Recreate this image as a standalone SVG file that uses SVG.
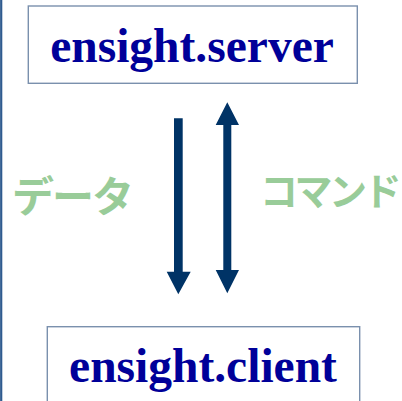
<svg xmlns="http://www.w3.org/2000/svg" width="402" height="401" viewBox="0 0 402 401">
<style>
.box{fill:#fff;stroke:#7a90ad;stroke-width:1.4}
.lbl{font-family:"Liberation Serif","Times New Roman",serif;font-weight:bold;font-size:47.5px;fill:#000099}
.jp{font-family:"Noto Sans CJK JP","Noto Sans",sans-serif;font-weight:bold;fill:#99cc99}
.arr{fill:#003366}
</style>
<rect width="402" height="401" fill="#fff"/>
<line x1="1.2" y1="0" x2="1.2" y2="401" stroke="#2f5b8f" stroke-width="2.2"/>
<g id="server">
<rect class="box" x="28.3" y="6" width="329" height="77.3"/>
<text class="lbl" x="192" y="61.7" text-anchor="middle">ensight.server</text>
</g>
<g id="client">
<rect class="box" x="47.3" y="326.7" width="312.4" height="80"/>
<text class="lbl" x="203" y="381.7" text-anchor="middle">ensight.client</text>
</g>
<g id="connectors">
<polygon class="arr" points="174,118.3 182.7,118.3 182.7,271.7 190.7,271.7 178.3,294.3 166.7,271.7 174,271.7"/>
<polygon class="arr" points="227.3,102.3 239,125 231.3,125 231.3,270 239,270 227.3,293.3 215.7,270 223.3,270 223.3,125 215.7,125"/>
</g>
<g id="labels">
<text class="jp" x="12" y="212" font-size="42" letter-spacing="-2">データ</text>
<text class="jp" x="260" y="205" font-size="38" letter-spacing="-3.5">コマンド</text>
</g>
</svg>
